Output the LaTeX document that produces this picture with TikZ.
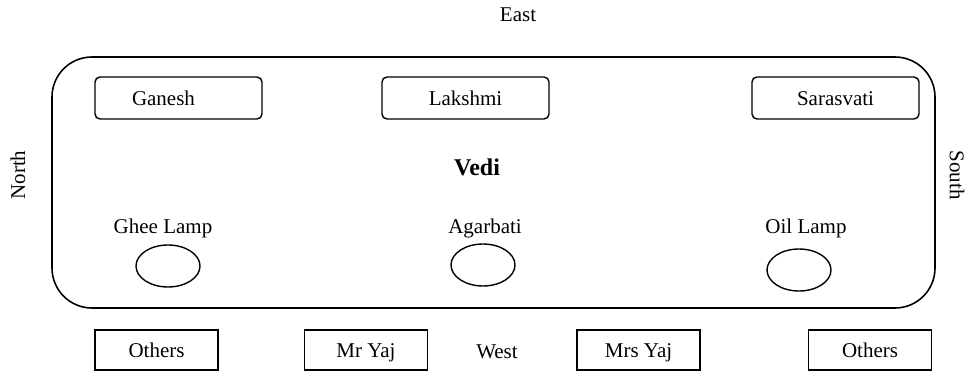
\documentclass[tikz,border=0pt]{standalone}
\usepackage{fontspec}
\setmainfont{Liberation Serif}
\usetikzlibrary{shapes.geometric}
\begin{document}
\begin{tikzpicture}[x=1pt,y=-1pt,
  lbl/.style={font=\fontsize{21}{24}\selectfont, inner sep=0pt},
  deity/.style={draw, line width=1.4pt, rounded corners=5pt, minimum width=167pt, minimum height=42pt, text height=16pt, text depth=1pt, font=\fontsize{21}{24}\selectfont},
  person/.style={draw, line width=1.2pt, minimum width=123pt, minimum height=40pt, text height=16pt, text depth=1pt, font=\fontsize{21}{24}\selectfont},
  lamp/.style={draw, ellipse, line width=1.4pt, minimum width=64pt, minimum height=42pt, inner sep=0pt}]
\useasboundingbox (0,0) rectangle (973,374);
% Vedi enclosure
\draw[line width=1.6pt, rounded corners=40pt] (52,57) rectangle (935,308);
% directions
\node[lbl] (east) at (518,15) {East};
\node[lbl, rotate=90] (north) at (18,175) {North};
\node[lbl, rotate=-90] (south) at (957,175) {South};
\node[lbl] (west) at (497,352) {West};
% deities
\node[deity] (ganesh) at (178.5,98) {\hspace*{-30pt}Ganesh};
\node[deity] (lakshmi) at (465.5,98) {Lakshmi};
\node[deity] (sarasvati) at (835.5,98) {Sarasvati};
\node[font=\fontsize{24}{28}\selectfont\bfseries] (vedi) at (477,167) {Vedi};
% lamps
\node[lbl] (ghee) at (163,228) {Ghee Lamp};
\node[lamp] (gheel) at (168,266) {};
\node[lbl] (agar) at (485,228) {Agarbati};
\node[lamp] (agarl) at (483,265) {};
\node[lbl] (oil) at (806,228) {Oil Lamp};
\node[lamp] (oill) at (799,270) {};
% people
\node[person] (oth1) at (156.5,350) {Others};
\node[person] (mryaj) at (366,350) {Mr Yaj};
\node[person] (mrsyaj) at (638.5,350) {Mrs Yaj};
\node[person] (oth2) at (870,350) {Others};
\end{tikzpicture}
\end{document}
